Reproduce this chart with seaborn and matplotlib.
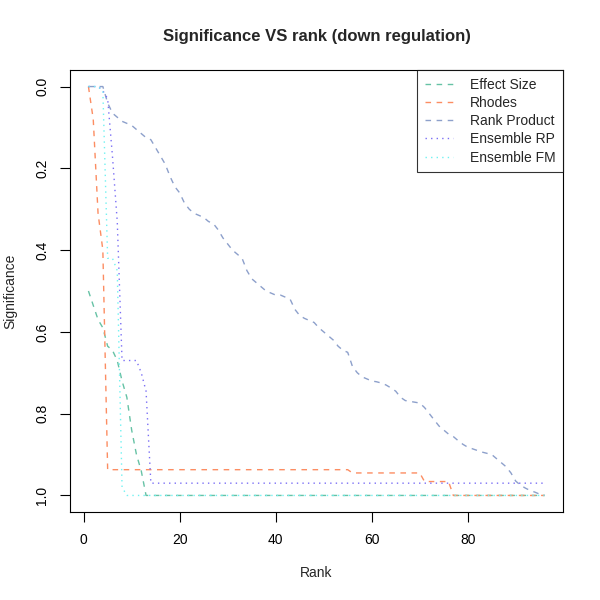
import numpy as np
import pandas as pd
import matplotlib
matplotlib.use('Agg')
import matplotlib.pyplot as plt
import seaborn as sns

# ranks 1..96
rank = list(range(1, 97))

effect_size = [0.50, 0.535, 0.57, 0.59, 0.635, 0.645, 0.67, 0.72, 0.76, 0.84, 0.90, 0.94] + [1.0] * 84

rhodes = [0.0, 0.08, 0.31, 0.40] + [0.937] * 51 + [0.945] * 15 + [0.966] * 6 + [1.0] * 20

rank_product = [0.0, 0.0, 0.0, 0.0, 0.04, 0.065, 0.075, 0.085, 0.09, 0.095,
                0.105, 0.115, 0.125, 0.13, 0.15, 0.17, 0.19, 0.22, 0.245, 0.26,
                0.285, 0.30, 0.31, 0.315, 0.32, 0.33, 0.335, 0.35, 0.37, 0.385,
                0.40, 0.41, 0.42, 0.45, 0.47, 0.48, 0.49, 0.50, 0.505, 0.51,
                0.51, 0.515, 0.52, 0.545, 0.56, 0.567, 0.572, 0.577, 0.59, 0.60,
                0.61, 0.62, 0.635, 0.645, 0.65, 0.685, 0.70, 0.71, 0.715, 0.72,
                0.722, 0.725, 0.73, 0.737, 0.745, 0.76, 0.768, 0.77, 0.772, 0.774,
                0.785, 0.80, 0.815, 0.83, 0.84, 0.85, 0.856, 0.866, 0.875, 0.882,
                0.886, 0.89, 0.894, 0.897, 0.90, 0.91, 0.92, 0.93, 0.945, 0.965,
                0.975, 0.982, 0.988, 0.992, 0.997, 1.0]

ensemble_rp = [0.0, 0.0, 0.0, 0.01, 0.03, 0.17, 0.33, 0.67, 0.67, 0.67,
               0.67, 0.70, 0.745] + [0.97] * 83

ensemble_fm = [0.0, 0.0, 0.0, 0.01, 0.42, 0.42, 0.45, 0.98] + [1.0] * 88

methods = ['Effect Size', 'Rhodes', 'Rank Product', 'Ensemble RP', 'Ensemble FM']
series = [effect_size, rhodes, rank_product, ensemble_rp, ensemble_fm]
colors = ['#66C2A5', '#FC8D62', '#8DA0CB', '#7A6EF5', '#6FF2F2']

df = pd.concat([pd.DataFrame({'Rank': rank, 'Significance': s, 'Method': m})
                for m, s in zip(methods, series)], ignore_index=True)

sns.set_style('ticks')
plt.rcParams['font.family'] = ['Liberation Sans', 'DejaVu Sans']

fig = plt.figure(figsize=(6, 6), dpi=100)
ax = fig.add_axes([0.117, 0.147, 0.821, 0.736])

dash = (4, 4)
dot = (1, 3)
sns.lineplot(data=df, x='Rank', y='Significance', hue='Method', style='Method',
             hue_order=methods, style_order=methods,
             palette=dict(zip(methods, colors)),
             dashes=dict(zip(methods, [dash, dash, dash, dot, dot])),
             linewidth=1.0, ax=ax)

ax.set_xlim(-2.8, 99.8)
ax.set_ylim(1.04, -0.04)
ax.set_xticks([0, 20, 40, 60, 80])
ax.set_yticks([0.0, 0.2, 0.4, 0.6, 0.8, 1.0])
ax.set_yticklabels(['0.0', '0.2', '0.4', '0.6', '0.8', '1.0'], rotation=90, va='center')
ax.tick_params(direction='out', length=7, width=0.8, labelsize=10, colors='black', pad=8)
for sp in ax.spines.values():
    sp.set_visible(True)
    sp.set_color('black')
    sp.set_linewidth(0.8)

ax.set_xlabel('Rank', fontsize=10, labelpad=14)
ax.set_ylabel('Significance', fontsize=10, labelpad=13)
ax.set_title('Significance VS rank (down regulation)', fontsize=12, fontweight='bold', pad=21)

leg = ax.legend(loc='upper right', borderaxespad=0, fontsize=10, frameon=True,
                fancybox=False, edgecolor='black', handlelength=2.0,
                borderpad=0.55, labelspacing=0.3, handletextpad=1.2)
leg.get_frame().set_linewidth(0.8)

fig.savefig('out.png', dpi=100)
